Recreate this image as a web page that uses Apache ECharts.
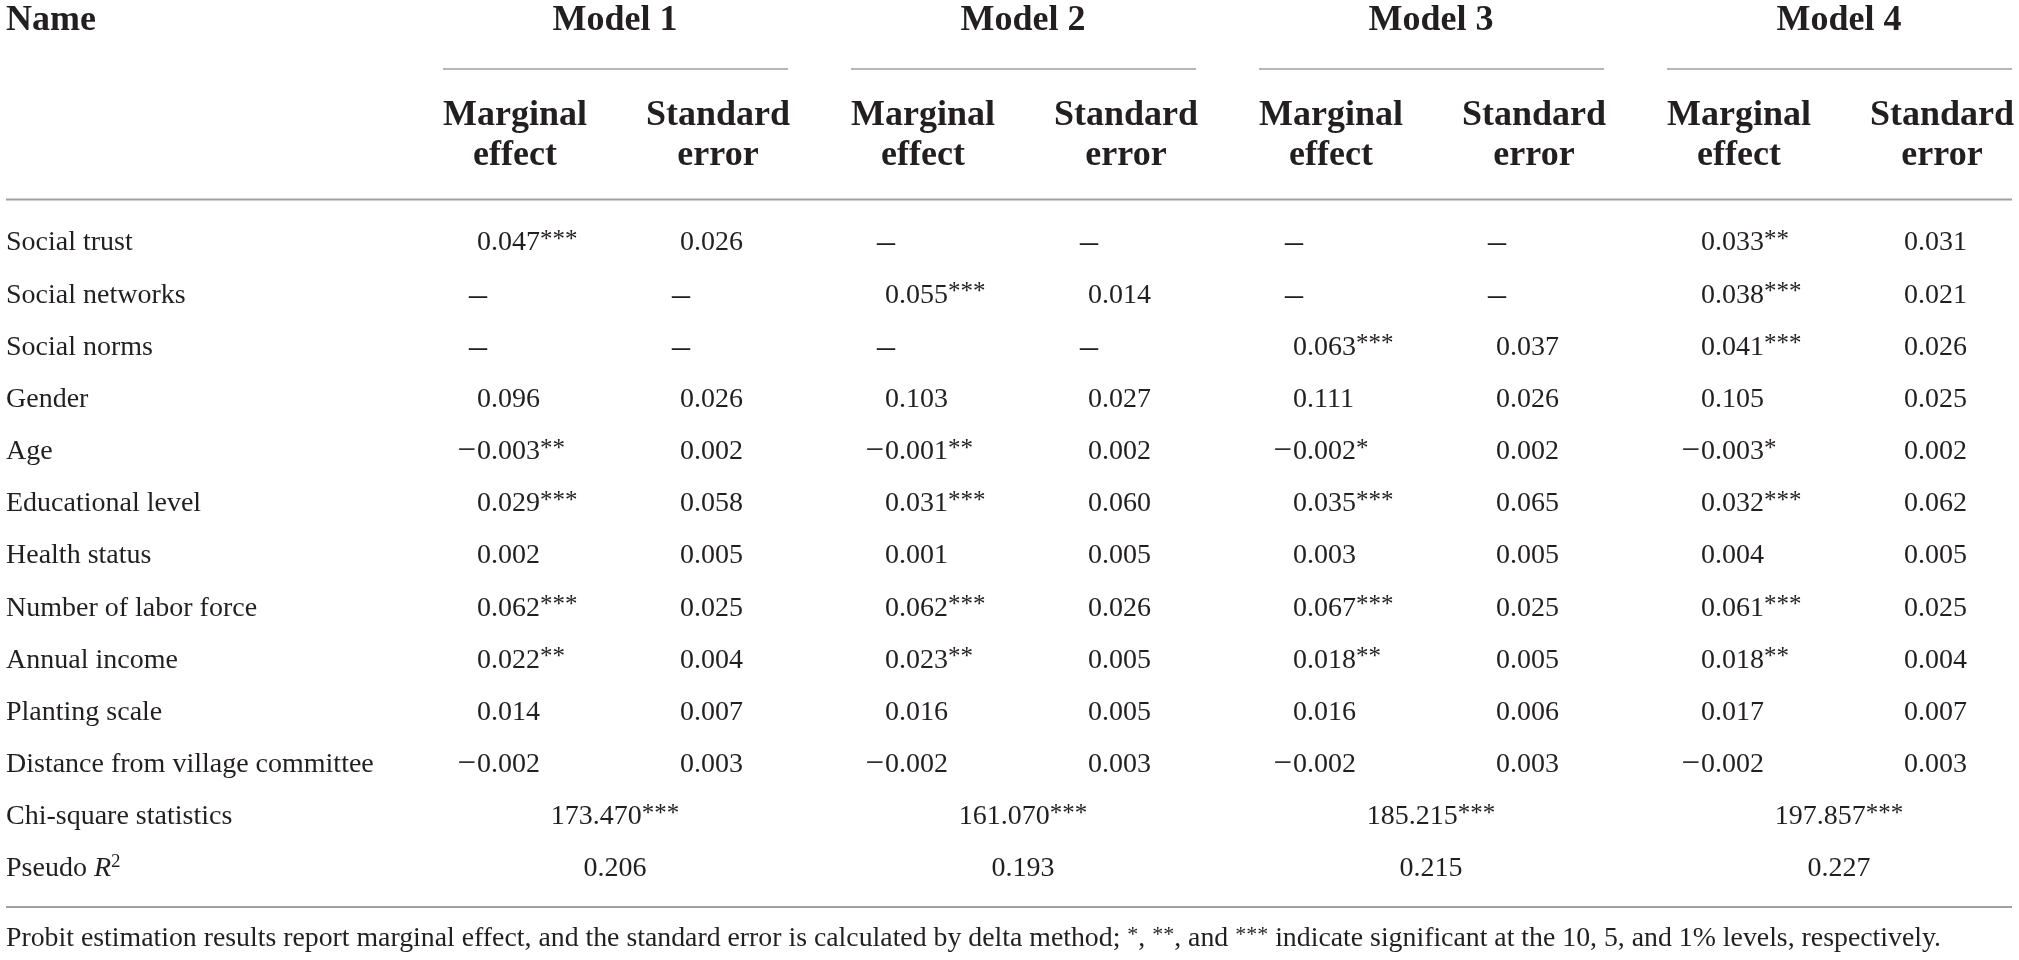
<!DOCTYPE html>
<html>
<head>
<meta charset="utf-8">
<script src="https://cdn.jsdelivr.net/npm/echarts@6/dist/echarts.min.js"></script>
<style>
html,body{margin:0;padding:0;background:#fff;}
#chart{width:2019px;height:960px;}
</style>
</head>
<body>
<div id="chart"></div>
<script>
// ---------------- DATA ----------------
const rowNames = ['Social trust','Social networks','Social norms','Gender','Age','Educational level','Health status','Number of labor force','Annual income','Planting scale','Distance from village committee'];
const statNames = ['Chi-square statistics','Pseudo R2'];
const models = ['Model 1','Model 2','Model 3','Model 4'];
const subHeaders = ['Marginal\neffect','Standard\nerror'];
const nameHeader = 'Name';

const m1Effect = [0.047,null,null,0.096,-0.003,0.029,0.002,0.062,0.022,0.014,-0.002];
const m1Stars  = [3,0,0,0,2,3,0,3,2,0,0];
const m1SE     = [0.026,null,null,0.026,0.002,0.058,0.005,0.025,0.004,0.007,0.003];

const m2Effect = [null,0.055,null,0.103,-0.001,0.031,0.001,0.062,0.023,0.016,-0.002];
const m2Stars  = [0,3,0,0,2,3,0,3,2,0,0];
const m2SE     = [null,0.014,null,0.027,0.002,0.060,0.005,0.026,0.005,0.005,0.003];

const m3Effect = [null,null,0.063,0.111,-0.002,0.035,0.003,0.067,0.018,0.016,-0.002];
const m3Stars  = [0,0,3,0,1,3,0,3,2,0,0];
const m3SE     = [null,null,0.037,0.026,0.002,0.065,0.005,0.025,0.005,0.006,0.003];

const m4Effect = [0.033,0.038,0.041,0.105,-0.003,0.032,0.004,0.061,0.018,0.017,-0.002];
const m4Stars  = [2,3,3,0,1,3,0,3,2,0,0];
const m4SE     = [0.031,0.021,0.026,0.025,0.002,0.062,0.005,0.025,0.004,0.007,0.003];

const chiSquare = [173.470,161.070,185.215,197.857];
const chiStars  = [3,3,3,3];
const pseudoR2  = [0.206,0.193,0.215,0.227];

const footnoteParts = ['Probit estimation results report marginal effect, and the standard error is calculated by delta method; ', '*', ', ', '**', ', and ', '***', ' indicate significant at the 10, 5, and 1% levels, respectively.'];

// ---------------- LAYOUT ----------------
const W = 2019, H = 960;
const MODEL_LEFT0 = 443, MODEL_STEP = 408;   // px of model 1 block start, px per model block
const ROW0 = 243, ROW_STEP = 52.17;          // px of first body row, px per row
const xU = px => (px - MODEL_LEFT0) / MODEL_STEP;
const yU = px => (px - ROW0) / ROW_STEP;
const OFF = {
  lineStart: 0, lineEnd: 345 / MODEL_STEP, center: 172 / MODEL_STEP,
  headM: 72 / MODEL_STEP, headS: 275 / MODEL_STEP,
  valM: 34 / MODEL_STEP, valS: 237 / MODEL_STEP
};
const Y = { top: yU(20.5), shortRule: yU(69), sub: yU(135.5), topRule: yU(199.5), bottomRule: yU(907), note: yU(939) };
const X_LEFT = xU(6), X_RIGHT = xU(2012);

const FONT = "'Liberation Serif', 'Times New Roman', serif";
const INK = '#231f20';
const RULE = '#a0a0a0';
const BODY = 28, HEAD = 36, NOTE = 27.8;

const effects = [m1Effect, m2Effect, m3Effect, m4Effect];
const starsAll = [m1Stars, m2Stars, m3Stars, m4Stars];
const ses = [m1SE, m2SE, m3SE, m4SE];

function tok(extra) {
  return Object.assign({ fontFamily: FONT, fill: INK, color: INK }, extra);
}
const RICH = {
  n: tok({ fontSize: BODY, lineHeight: 30 }),
  s: tok({ fontSize: 25, lineHeight: 25, verticalAlign: 'top' }),
  i: tok({ fontSize: BODY, lineHeight: 34, fontStyle: 'italic' }),
  p: tok({ fontSize: BODY, lineHeight: 34 }),
  sup: tok({ fontSize: 19, lineHeight: 19, verticalAlign: 'top' }),
  fn: tok({ fontSize: NOTE, lineHeight: 30 }),
  fs: tok({ fontSize: 22, lineHeight: 22, verticalAlign: 'top' })
};

// ---------------- ITEMS ----------------
const headItems = [];
headItems.push({ x: X_LEFT, y: Y.top, text: nameHeader, align: 'left' });
models.forEach((m, k) => {
  headItems.push({ x: k + OFF.center, y: Y.top, text: m, align: 'center' });
  headItems.push({ x: k + OFF.headM, y: Y.sub, text: subHeaders[0], align: 'center' });
  headItems.push({ x: k + OFF.headS, y: Y.sub, text: subHeaders[1], align: 'center' });
});

const labelItems = [];
rowNames.forEach((n, r) => labelItems.push({ x: X_LEFT, y: r, text: '{n|' + n + '}' }));
labelItems.push({ x: X_LEFT, y: rowNames.length, text: '{n|' + statNames[0] + '}' });
labelItems.push({ x: X_LEFT, y: rowNames.length + 1, text: '{p|Pseudo }{i|R}{sup|2}' });

const cellItems = [];
for (let k = 0; k < models.length; k++) {
  for (let r = 0; r < rowNames.length; r++) {
    cellItems.push({ x: k + OFF.valM, y: r, value: effects[k][r], stars: starsAll[k][r] });
    cellItems.push({ x: k + OFF.valS, y: r, value: ses[k][r], stars: 0 });
  }
}
const statItems = [];
for (let k = 0; k < models.length; k++) {
  statItems.push({ x: k + OFF.center, y: rowNames.length, align: 'center', text: '{n|' + chiSquare[k].toFixed(3) + '}{s|' + '*'.repeat(chiStars[k]) + '}' });
  statItems.push({ x: k + OFF.center, y: rowNames.length + 1, align: 'center', text: '{n|' + pseudoR2[k].toFixed(3) + '}' });
}

const ruleItems = [];
models.forEach((m, k) => ruleItems.push([k + OFF.lineStart, k + OFF.lineEnd, Y.shortRule, 1.5]));
ruleItems.push([X_LEFT, X_RIGHT, Y.topRule, 1.8]);
ruleItems.push([X_LEFT, X_RIGHT, Y.bottomRule, 1.8]);

let fnText = '';
footnoteParts.forEach(p => { fnText += (/^\*+$/.test(p) ? '{fs|' + p + '}' : '{fn|' + p + '}'); });
const noteItems = [{ x: X_LEFT, y: Y.note, text: fnText }];

// ---------------- RENDERERS ----------------
function richText(items) {
  return function (params, api) {
    const it = items[params.dataIndex];
    const p = api.coord([api.value(0), api.value(1)]);
    return {
      type: 'text', x: p[0], y: p[1],
      style: { text: it.text, rich: RICH, align: it.align || 'left', verticalAlign: 'middle', fill: INK,
               fontFamily: FONT, fontSize: BODY }
    };
  };
}
function headRender(params, api) {
  const it = headItems[params.dataIndex];
  const p = api.coord([api.value(0), api.value(1)]);
  return {
    type: 'text', x: p[0], y: p[1],
    style: { text: it.text, fontFamily: FONT, fontSize: HEAD, fontWeight: 'bold', lineHeight: 40,
             align: it.align, verticalAlign: 'middle', fill: INK }
  };
}
function cellRender(params, api) {
  const it = cellItems[params.dataIndex];
  const p = api.coord([api.value(0), api.value(1)]);
  if (it.value === null) {
    return { type: 'text', x: p[0] + 1, y: p[1] + 1,
      style: { text: '\u2013', fontFamily: FONT, fontSize: 36, align: 'center', verticalAlign: 'middle', fill: INK } };
  }
  const abs = Math.abs(it.value).toFixed(3);
  const txt = '{n|' + abs + '}' + (it.stars ? '{s|' + '*'.repeat(it.stars) + '}' : '');
  const children = [{ type: 'text', x: p[0], y: p[1],
    style: { text: txt, rich: RICH, align: 'left', verticalAlign: 'middle', fill: INK, fontFamily: FONT, fontSize: BODY } }];
  if (it.value < 0) {
    children.push({ type: 'text', x: p[0] - 1, y: p[1],
      style: { text: '\u2212', fontFamily: FONT, fontSize: 33, align: 'right', verticalAlign: 'middle', fill: INK } });
  }
  return { type: 'group', children: children };
}
function ruleRender(params, api) {
  const p0 = api.coord([api.value(0), api.value(2)]);
  const p1 = api.coord([api.value(1), api.value(2)]);
  return { type: 'line', shape: { x1: p0[0], y1: p0[1], x2: p1[0], y2: p1[1] },
           style: { stroke: RULE, lineWidth: api.value(3) } };
}

const chart = echarts.init(document.getElementById('chart'));
chart.setOption({
  animation: false,
  backgroundColor: '#ffffff',
  grid: { left: 0, right: 0, top: 0, bottom: 0 },
  xAxis: { type: 'value', min: xU(0), max: xU(W), show: false },
  yAxis: { type: 'value', inverse: true, min: yU(0), max: yU(H), show: false },
  series: [
    { type: 'custom', name: 'rules', renderItem: ruleRender, data: ruleItems, silent: true },
    { type: 'custom', name: 'header', renderItem: headRender, data: headItems.map(d => [d.x, d.y]), silent: true },
    { type: 'custom', name: 'labels', renderItem: richText(labelItems), data: labelItems.map(d => [d.x, d.y]), silent: true },
    { type: 'custom', name: 'cells', renderItem: cellRender, data: cellItems.map(d => [d.x, d.y]), silent: true },
    { type: 'custom', name: 'stats', renderItem: richText(statItems), data: statItems.map(d => [d.x, d.y]), silent: true },
    { type: 'custom', name: 'note', renderItem: richText(noteItems), data: noteItems.map(d => [d.x, d.y]), silent: true }
  ]
});
</script>
</body>
</html>
